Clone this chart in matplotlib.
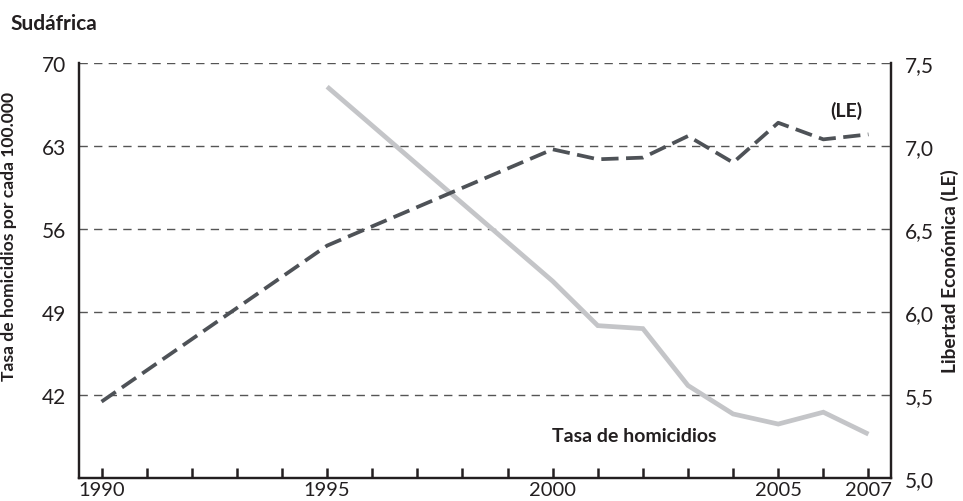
import matplotlib
matplotlib.use("Agg")
import matplotlib.pyplot as plt

# Data
hom_years = [1995, 2000, 2001, 2002, 2003, 2004, 2005, 2006, 2007]
hom_rate = [68.0, 51.6, 47.85, 47.6, 42.8, 40.4, 39.55, 40.55, 38.7]

le_years = [1990, 1995, 2000, 2001, 2002, 2003, 2004, 2005, 2006, 2007]
le_values = [5.46, 6.40, 6.98, 6.92, 6.93, 7.06, 6.90, 7.14, 7.04, 7.07]

left_ticks = [42, 49, 56, 63, 70]
right_ticks = [5.0, 5.5, 6.0, 6.5, 7.0, 7.5]
right_tick_labels = ["5,0", "5,5", "6,0", "6,5", "7,0", "7,5"]
x_label_years = [1990, 1995, 2000, 2005, 2007]
all_years = list(range(1990, 2008))

title = "Sudáfrica"
left_label = "Tasa de homicidios por cada 100.000"
right_label = "Libertad Económica (LE)"

plt.rcParams['font.family'] = ['Lato', 'DejaVu Sans']
TXT = "#231f20"

fig = plt.figure(figsize=(9.63, 5.02), dpi=100)
ax = fig.add_axes([79/963, 1-479/502, (891-79)/963, (479-64)/502])
ax2 = ax.twinx()

ax.set_xlim(1989.5, 2007.5)
ax.set_ylim(35, 70)
ax2.set_ylim(5.0, 7.5)

# grid
for v in left_ticks:
    ax.axhline(v, color="#555555", lw=1.0, ls=(0, (6, 4.5)), zorder=1)

# lines
ax2.plot(le_years, le_values, color="#4e5257", lw=2.7, ls=(0, (4.6, 2.0)),
         solid_capstyle='butt', dash_capstyle='butt', zorder=3)
ax.plot(hom_years, hom_rate, color="#c4c5c8", lw=3.4, solid_joinstyle='miter',
        solid_capstyle='butt', zorder=2)

# spines
for a in (ax, ax2):
    a.spines['top'].set_visible(False)
    for s in ('left', 'right', 'bottom'):
        a.spines[s].set_color(TXT)
        a.spines[s].set_linewidth(1.6)

ax.set_yticks(left_ticks)
ax.set_yticklabels([str(v) for v in left_ticks])
ax.tick_params(axis='y', length=0, pad=9, labelsize=15, labelcolor=TXT)

ax2.set_yticks(right_ticks)
ax2.set_yticklabels(right_tick_labels)
ax2.tick_params(axis='y', length=0, pad=10, labelsize=15, labelcolor=TXT)

ax.set_xticks(all_years)
ax.set_xticklabels([str(y) if y in x_label_years else "" for y in all_years])
ax.tick_params(axis='x', direction='in', length=7, width=1.8, color=TXT,
               pad=2, labelsize=14.5, labelcolor=TXT)

ax.set_ylabel(left_label, fontsize=12.6, fontweight='bold', color=TXT)
ax.yaxis.set_label_coords(-0.076, 0.585)
ax2.set_ylabel(right_label, fontsize=13.8, fontweight='bold', color=TXT,
               rotation=90, va='center')
ax2.yaxis.set_label_coords(1.073, 0.5)

fig.text(10/963, 1-24/502, title, fontsize=15, fontweight='bold', color=TXT,
         ha='left', va='center')

ax2.text(2006.5, 7.22, "(LE)", fontsize=14, fontweight='bold', color=TXT,
         ha='center', va='center')
ax.text(2001.8, 38.6, "Tasa de homicidios", fontsize=14, fontweight='bold',
        color=TXT, ha='center', va='center')

fig.savefig("out.png", dpi=100)
